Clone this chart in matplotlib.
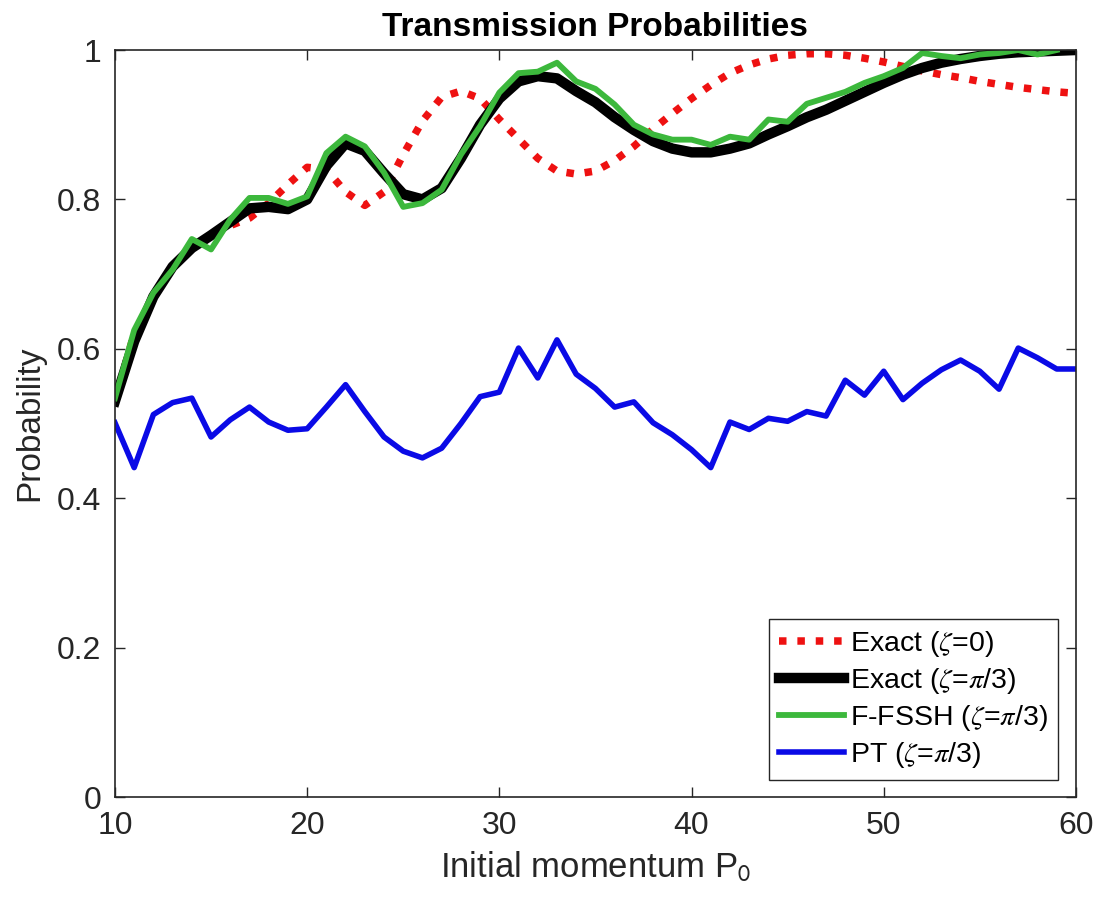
import numpy as np
import matplotlib
matplotlib.use("Agg")
import matplotlib.pyplot as plt

plt.rcParams['font.family'] = ['Liberation Sans', 'DejaVu Sans']
plt.rcParams['mathtext.fontset'] = 'stix'

# initial momentum grid
p0 = np.arange(10, 61)

# Exact (zeta = 0)
exact_0 = [0.53, 0.62, 0.67, 0.71, 0.735, 0.75, 0.765, 0.775, 0.795, 0.82,
           0.843, 0.84, 0.81, 0.792, 0.81, 0.86, 0.905, 0.937, 0.945, 0.935,
           0.907, 0.881, 0.855, 0.838, 0.834, 0.838, 0.852, 0.871, 0.894, 0.915,
           0.935, 0.953, 0.969, 0.98, 0.988, 0.993, 0.995, 0.995, 0.993, 0.989,
           0.984, 0.978, 0.972, 0.967, 0.963, 0.958, 0.954, 0.95, 0.947, 0.944,
           0.942]

# Exact (zeta = pi/3)
exact_pi3 = [0.53, 0.61, 0.67, 0.71, 0.735, 0.752, 0.77, 0.788, 0.79, 0.787,
             0.80, 0.845, 0.875, 0.865, 0.835, 0.807, 0.80, 0.815, 0.855, 0.90,
             0.935, 0.958, 0.965, 0.962, 0.945, 0.93, 0.91, 0.893, 0.878, 0.868,
             0.863, 0.863, 0.868, 0.875, 0.887, 0.898, 0.91, 0.92, 0.932, 0.944,
             0.956, 0.967, 0.976, 0.983, 0.988, 0.992, 0.995, 0.997, 0.998, 0.999,
             1.0]

# F-FSSH (zeta = pi/3), P0 = 10..59
ffssh = [0.534, 0.625, 0.675, 0.706, 0.747, 0.733, 0.773, 0.802, 0.802, 0.794,
         0.804, 0.862, 0.884, 0.871, 0.836, 0.79, 0.795, 0.813, 0.86, 0.898,
         0.943, 0.969, 0.971, 0.983, 0.958, 0.948, 0.927, 0.90, 0.887, 0.880,
         0.880, 0.873, 0.884, 0.880, 0.907, 0.904, 0.928, 0.936, 0.944, 0.956,
         0.965, 0.976, 0.996, 0.992, 0.989, 0.994, 0.996, 1.0, 0.994, 1.0]

# PT (zeta = pi/3)
pt = [0.501, 0.441, 0.512, 0.528, 0.534, 0.482, 0.505, 0.522, 0.502, 0.491,
      0.493, 0.522, 0.552, 0.516, 0.482, 0.463, 0.454, 0.467, 0.50, 0.536,
      0.542, 0.601, 0.561, 0.612, 0.566, 0.547, 0.522, 0.529, 0.501, 0.485,
      0.465, 0.441, 0.502, 0.492, 0.507, 0.503, 0.516, 0.510, 0.558, 0.538,
      0.570, 0.532, 0.554, 0.572, 0.585, 0.570, 0.546, 0.601, 0.588, 0.573,
      0.573]

fig = plt.figure(figsize=(11, 9.11), dpi=100)
ax = fig.add_axes([0.1045, 0.1251, 0.8736, 0.82])

ax.plot(p0, exact_0, color='#ee1111', linewidth=5.4, linestyle=(0, (1, 1.45)),
        dash_capstyle='butt', label=r'Exact ($\zeta$=0)')
ax.plot(p0, exact_pi3, color='black', linewidth=7.5, label=r'Exact ($\zeta$=$\pi$/3)')
ax.plot(p0[:len(ffssh)], ffssh, color='#3cb83c', linewidth=4.2, label=r'F-FSSH ($\zeta$=$\pi$/3)')
ax.plot(p0, pt, color='#0a0ae6', linewidth=4.0, label=r'PT ($\zeta$=$\pi$/3)')

ax.set_xlim(10, 60)
ax.set_ylim(0, 1)
ax.set_xticks([10, 20, 30, 40, 50, 60])
ax.set_yticks([0, 0.2, 0.4, 0.6, 0.8, 1])
ax.set_yticklabels(['0', '0.2', '0.4', '0.6', '0.8', '1'])
ax.tick_params(direction='in', length=7, width=1, top=True, right=True,
               labelsize=23, pad=10, color='#262626', labelcolor='#262626')
for s in ax.spines.values():
    s.set_linewidth(1.2)
    s.set_color('#262626')

ax.set_title('Transmission Probabilities', fontsize=24, fontweight='bold', pad=10)
ax.set_xlabel(r'Initial momentum P$_\mathsf{0}$', fontsize=25, color='#262626', labelpad=6)
ax.set_ylabel('Probability', fontsize=24, color='#262626', labelpad=8)

leg = ax.legend(loc='lower right', fontsize=20.5, handlelength=2.3, handletextpad=0.2,
                labelspacing=0.25, borderpad=0.35, borderaxespad=0, fancybox=False,
                framealpha=1, edgecolor='#262626', bbox_to_anchor=(0.981, 0.023))
leg.get_frame().set_linewidth(1.0)

fig.savefig('out.png', dpi=100)
